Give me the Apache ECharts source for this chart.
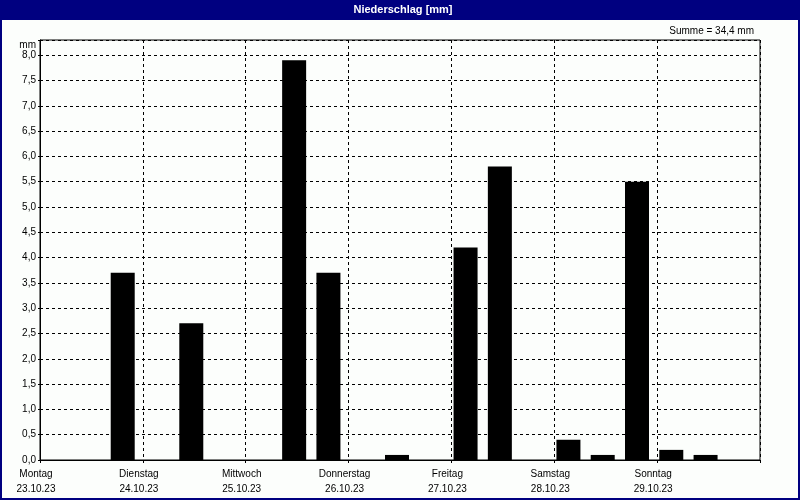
<!DOCTYPE html>
<html>
<head>
<meta charset="utf-8">
<script src="https://cdn.jsdelivr.net/npm/echarts@6/dist/echarts.min.js"></script>
<style>
html,body{margin:0;padding:0;background:#fcfefc;}
#chart{width:800px;height:500px;}
</style>
</head>
<body>
<div id="chart"></div>
<script>
// --- data ---
var dayNames = ['Montag', 'Dienstag', 'Mittwoch', 'Donnerstag', 'Freitag', 'Samstag', 'Sonntag'];
var dayDates = ['23.10.23', '24.10.23', '25.10.23', '26.10.23', '27.10.23', '28.10.23', '29.10.23'];
var periods = ['00-08', '08-16', '16-24'];
// precipitation per 8-hour period (mm), 21 periods
var rainValues = [0, 0, 3.7, 0, 2.7, 0, 0, 7.9, 3.7, 0, 0.1, 0, 4.2, 5.8, 0, 0.4, 0.1, 5.5, 0.2, 0.1, 0];
var yTicks = [0, 0.5, 1, 1.5, 2, 2.5, 3, 3.5, 4, 4.5, 5, 5.5, 6, 6.5, 7, 7.5, 8];
var titleText = 'Niederschlag [mm]';
var unitText = 'mm';

var binLabels = [];
dayDates.forEach(function (d) { periods.forEach(function (p) { binLabels.push(d + ' ' + p); }); });
var total = rainValues.reduce(function (a, b) { return a + b; }, 0);
var sumText = 'Summe = ' + total.toFixed(1).replace('.', ',') + ' mm';

var FONT = "'Liberation Sans', Arial, sans-serif";
var NAVY = '#000080';
var YMAX = 8.3;
var FS = 10;

var chart = echarts.init(document.getElementById('chart'), null, {renderer: 'canvas'});
chart.setOption({
  backgroundColor: '#fcfefc',
  animation: false,
  textStyle: {fontFamily: FONT},
  graphic: [
    {type: 'rect', z: 0, shape: {x: 0, y: 0, width: 800, height: 20}, style: {fill: NAVY}},
    {type: 'rect', z: 0, shape: {x: 1, y: 1, width: 798, height: 498}, style: {fill: 'none', stroke: NAVY, lineWidth: 2}},
    {type: 'text', z: 10, x: 403, y: 10, style: {text: titleText, fill: '#ffffff', font: 'bold 11px ' + FONT, textAlign: 'center', textVerticalAlign: 'middle'}},
    {type: 'text', z: 10, x: 754, y: 31, style: {text: sumText, fill: '#000000', font: FS + 'px ' + FONT, textAlign: 'right', textVerticalAlign: 'middle'}},
    {type: 'text', z: 10, x: 36, y: 45, style: {text: unitText, fill: '#000000', font: FS + 'px ' + FONT, textAlign: 'right', textVerticalAlign: 'middle'}}
  ],
  grid: [
    {left: 40, top: 40, width: 720, height: 420, show: true, borderColor: '#000', borderWidth: 1, backgroundColor: 'transparent'},
    {left: 37, top: 40, width: 720, height: 420}
  ],
  xAxis: [
    {
      type: 'value', gridIndex: 0, min: 0, max: 7, interval: 1,
      axisLine: {show: true, lineStyle: {color: '#000', width: 1}},
      axisTick: {show: true, length: 3, lineStyle: {color: '#000'}},
      splitLine: {show: true, lineStyle: {color: '#000', width: 1, type: [3, 3]}},
      axisLabel: {
        show: true, margin: 7, color: '#000', fontSize: FS, fontFamily: FONT,
        padding: [0, 8, 0, 0], lineHeight: 15,
        formatter: function (v) {
          var i = Math.round(v);
          if (i < 0 || i >= dayNames.length) return '';
          return dayNames[i] + '\n' + dayDates[i];
        }
      }
    },
    {type: 'category', gridIndex: 1, data: binLabels, show: false, boundaryGap: true}
  ],
  yAxis: [
    {
      type: 'value', gridIndex: 0, min: 0, max: YMAX, interval: 0.5,
      axisLine: {show: true, lineStyle: {color: '#000', width: 1}},
      axisTick: {show: true, length: 2, lineStyle: {color: '#000'}},
      splitLine: {show: true, lineStyle: {color: '#000', width: 1, type: [3, 3]}},
      axisLabel: {
        show: true, margin: 4, color: '#000', fontSize: FS, fontFamily: FONT,
        formatter: function (v) {
          for (var k = 0; k < yTicks.length; k++) {
            if (Math.abs(yTicks[k] - v) < 1e-6) return yTicks[k].toFixed(1).replace('.', ',');
          }
          return '';
        }
      }
    },
    {type: 'value', gridIndex: 1, min: 0, max: YMAX, show: false, splitLine: {show: false}}
  ],
  series: [
    {
      type: 'bar', xAxisIndex: 1, yAxisIndex: 1, data: rainValues,
      barWidth: 24, itemStyle: {color: '#000000'}, z: 5, silent: true
    }
  ]
});
</script>
</body>
</html>
